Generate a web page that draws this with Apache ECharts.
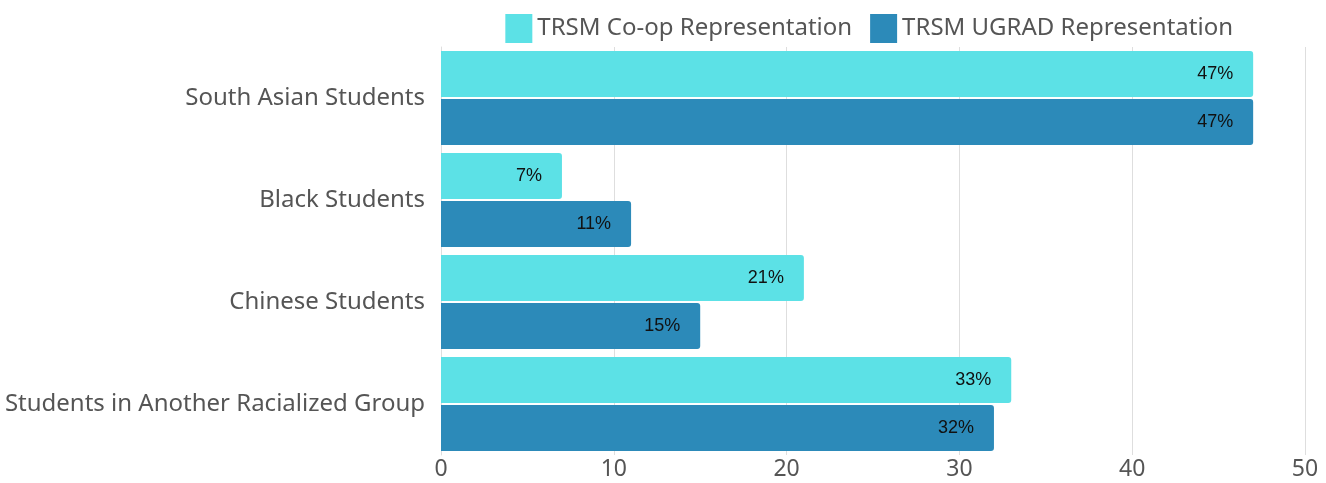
<!DOCTYPE html>
<html>
<head>
<meta charset="utf-8">
<script src="https://cdn.jsdelivr.net/npm/echarts@6/dist/echarts.min.js"></script>
<style>
  html, body { margin: 0; padding: 0; background: #fff; }
  #chart { width: 1326px; height: 483px; }
</style>
</head>
<body>
<div id="chart"></div>
<script>
// 分类（从上到下）
const categories = ['South Asian Students', 'Black Students', 'Chinese Students', 'Students in Another Racialized Group'];
const coopValues = [47, 7, 21, 33];
const ugradValues = [47, 11, 15, 32];
const xTicks = [0, 10, 20, 30, 40, 50];

const chart = echarts.init(document.getElementById('chart'));

const labelStyle = {
  show: true,
  position: 'insideRight',
  distance: 20,
  color: '#111',
  fontSize: 18,
  fontFamily: 'Liberation Sans, Arial, sans-serif',
  formatter: p => p.value + '%'
};

const option = {
  animation: false,
  legend: {
    top: 9,
    right: 88,
    itemWidth: 27,
    itemHeight: 29,
    itemGap: 18,
    icon: 'rect',
    textStyle: { color: '#555', fontSize: 24, fontFamily: 'Noto Sans' },
    data: ['TRSM Co-op Representation', 'TRSM UGRAD Representation']
  },
  grid: { left: 441, right: 21, top: 47, bottom: 28 },
  xAxis: {
    type: 'value',
    min: xTicks[0],
    max: xTicks[xTicks.length - 1],
    interval: 10,
    axisLine: { show: false },
    axisTick: { show: false },
    axisLabel: { color: '#555', fontSize: 23, fontFamily: 'Noto Sans', margin: 3 },
    splitLine: { show: true, lineStyle: { color: '#dedede', width: 1 } }
  },
  yAxis: {
    type: 'category',
    inverse: true,
    data: categories,
    axisLine: { show: true, lineStyle: { color: '#dedede' } },
    axisTick: { show: false },
    axisLabel: { color: '#555', fontSize: 24, fontFamily: 'Noto Sans', margin: 16 }
  },
  series: [
    {
      name: 'TRSM Co-op Representation',
      type: 'bar',
      data: coopValues,
      barGap: '4%',
      barCategoryGap: '8%',
      itemStyle: { color: '#5ce1e6', borderRadius: [0, 3, 3, 0] },
      label: labelStyle
    },
    {
      name: 'TRSM UGRAD Representation',
      type: 'bar',
      data: ugradValues,
      barGap: '4%',
      barCategoryGap: '8%',
      itemStyle: { color: '#2c8ab9', borderRadius: [0, 3, 3, 0] },
      label: labelStyle
    }
  ]
};

chart.setOption(option);
window.addEventListener('resize', () => chart.resize());
</script>
</body>
</html>
